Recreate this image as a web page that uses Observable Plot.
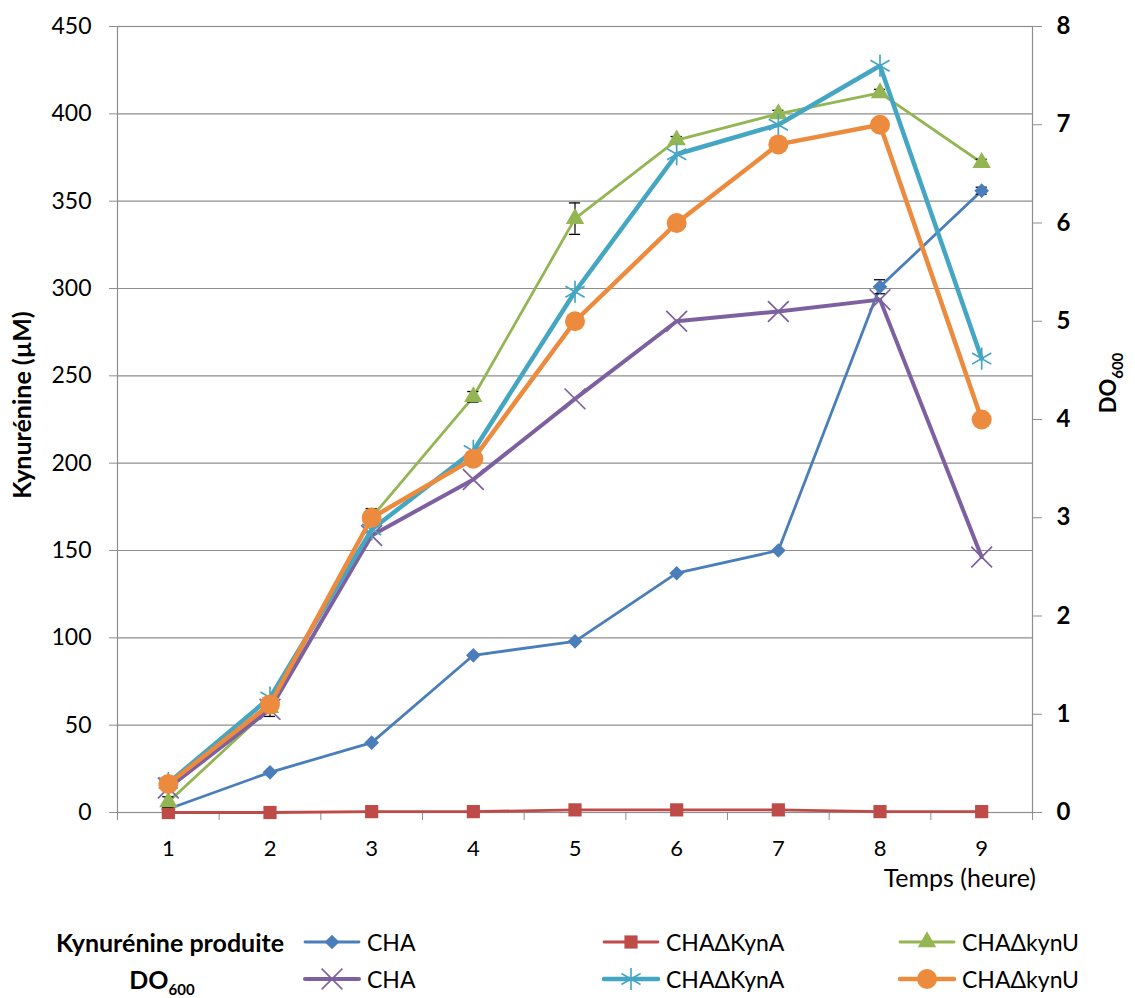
<!DOCTYPE html>
<html><head><meta charset="utf-8">
<script src="https://cdn.jsdelivr.net/npm/d3@7"></script>
<script src="https://cdn.jsdelivr.net/npm/@observablehq/plot@0.6"></script>
<style>
body{margin:0;background:#fff;font-family:Lato,"Open Sans",sans-serif;}
#wrap{position:relative;width:1135px;}
#legend{position:relative;width:1135px;height:98px;}
.item{position:absolute;display:flex;align-items:center;height:32px;font-size:23px;color:#000;white-space:nowrap;}
.lab{position:absolute;height:32px;line-height:32px;font-size:25px;font-weight:bold;text-align:center;width:240px;left:50px;}
.lab sub{font-size:15px;vertical-align:-6px;line-height:0;}
.item svg{margin-right:6px;}
</style></head><body>
<div id="wrap"></div>
<div id="legend"></div>
<script>
// ---- data ----
const hours = [1, 2, 3, 4, 5, 6, 7, 8, 9];
const yTicks = [0, 50, 100, 150, 200, 250, 300, 350, 400, 450];
const doTicks = [0, 1, 2, 3, 4, 5, 6, 7, 8];
const strains = ["CHA", "CHAΔKynA", "CHAΔkynU"];

// Kynurénine produite (µM) — left axis
const kynCHA   = [2, 23, 40, 90, 98, 137, 150, 301, 356];
const kynCHAErr = [0, 0, 0, 0, 0, 0, 0, 4, 2];
const kynKynA  = [0, 0, 0.5, 0.5, 1.5, 1.5, 1.5, 0.5, 0.5];
const kynKynU  = [6, 60, 169, 238, 340, 385, 400, 412, 372];
const kynKynUErr = [3, 5, 5, 3, 9, 2, 2, 2, 2];

// DO600 — right axis
const doCHA  = [0.25, 1.05, 2.82, 3.39, 4.21, 5.0, 5.1, 5.22, 2.6];
const doKynA = [0.3, 1.17, 2.88, 3.68, 5.3, 6.7, 7.0, 7.6, 4.62];
const doKynU = [0.29, 1.1, 3.0, 3.6, 5.0, 6.0, 6.8, 7.0, 4.0];

// ---- build ----
const K = 450 / 8; // DO600 -> left-axis units
const series = [
  {group:"Kynurénine produite", name:strains[0], vals:kynCHA, err:kynCHAErr, scale:1, color:"#4A7EBB", sw:2.8, symbol:"diamond2", r:6.6, filled:true},
  {group:"Kynurénine produite", name:strains[1], vals:kynKynA, err:null, scale:1, color:"#BE4B48", sw:2.8, symbol:"square2", r:8.4, filled:true},
  {group:"Kynurénine produite", name:strains[2], vals:kynKynU, err:kynKynUErr, scale:1, color:"#93B653", sw:2.8, symbol:"triangle2", r:8.8, filled:true},
  {group:"DO600", name:strains[0], vals:doCHA, err:null, scale:K, color:"#7D60A0", sw:4, symbol:"times", r:9.5, filled:false},
  {group:"DO600", name:strains[1], vals:doKynA, err:null, scale:K, color:"#44A6C2", sw:4.5, symbol:"asterisk", r:10.5, filled:false},
  {group:"DO600", name:strains[2], vals:doKynU, err:null, scale:K, color:"#EC8A3E", sw:4.5, symbol:"circle", r:10, filled:true}
];
const rowsOf = s => hours.map((h, i) => ({hour:h, v:s.vals[i] * s.scale, e:s.err ? s.err[i] : 0}));
const boundaries = [...hours.map(h => h - 0.5), 9.5];

const marks = [
  Plot.gridY(yTicks, {stroke:"#8e8e8e", strokeOpacity:1, strokeWidth:1.2}),
  Plot.frame({stroke:"#8e8e8e", strokeWidth:1.2}),
  Plot.axisY(yTicks, {anchor:"left", tickSize:8, tickPadding:18, stroke:"#8e8e8e", fontSize:23, label:null}),
  Plot.axisY(doTicks.map(d => d * K), {anchor:"right", tickSize:9, tickPadding:15, stroke:"#8e8e8e",
    tickFormat:v => String(Math.round(v / K)), fontWeight:"bold", fontSize:24, label:null}),
  Plot.axisX(hours, {anchor:"bottom", tickSize:0, tickPadding:28, fontSize:22, label:null}),
  Plot.axisX(boundaries, {anchor:"bottom", tickSize:8, stroke:"#8e8e8e", tickFormat:() => "", label:null})
];
for (const s of series) {
  const rows = rowsOf(s);
  marks.push(Plot.line(rows, {x:"hour", y:"v", stroke:s.color, strokeWidth:s.sw, strokeLinejoin:"round", strokeLinecap:"round"}));
  if (s.err) {
    const er = rows.filter(d => d.e > 0);
    marks.push(Plot.ruleX(er, {x:"hour", y1:d => d.v - d.e, y2:d => d.v + d.e, stroke:"#000", strokeWidth:1.2}));
    marks.push(Plot.ruleY(er, {y:d => d.v + d.e, x1:d => d.hour - 0.055, x2:d => d.hour + 0.055, stroke:"#000", strokeWidth:1.3}));
    marks.push(Plot.ruleY(er, {y:d => d.v - d.e, x1:d => d.hour - 0.055, x2:d => d.hour + 0.055, stroke:"#000", strokeWidth:1.3}));
  }
  marks.push(Plot.dot(rows, s.filled
    ? {x:"hour", y:"v", symbol:s.symbol, r:s.r, fill:s.color, stroke:"none"}
    : {x:"hour", y:"v", symbol:s.symbol, r:s.r, fill:"none", stroke:s.color, strokeWidth:1.7}));
}

const plot = Plot.plot({
  width:1135, height:900,
  marginLeft:117, marginRight:103, marginTop:26, marginBottom:88,
  x:{type:"linear", domain:[0.5, 9.5]},
  y:{domain:[0, 450]},
  style:{fontFamily:"Lato, 'Open Sans', sans-serif", fontSize:"23px", color:"#000", background:"#fff"},
  marks
});
document.getElementById("wrap").appendChild(plot);

// axis titles
const sx = plot.scale("x"), sy = plot.scale("y");
const svg = d3.select(plot);
const midY = (sy.apply(0) + sy.apply(450)) / 2;
svg.append("text").attr("transform", `translate(31,${midY - 14}) rotate(-90)`)
  .attr("text-anchor", "middle").attr("font-weight", "bold").attr("font-size", 25)
  .attr("fill", "#000").text("Kynurénine (µM)");
const t2 = svg.append("text").attr("transform", `translate(1116,${midY - 36}) rotate(-90)`)
  .attr("text-anchor", "middle").attr("font-weight", "bold").attr("font-size", 22).attr("fill", "#000");
t2.append("tspan").text("DO");
t2.append("tspan").attr("font-size", 15).attr("dy", 7).text("600");
svg.append("text").attr("x", sx.apply(9.5) + 4).attr("y", sy.apply(0) + 75)
  .attr("text-anchor", "end").attr("font-size", 25).attr("fill", "#000").text("Temps (heure)");

// legend
const legend = d3.select("#legend");
const rowsY = [26, 63];
const colX = [303, 602, 898];
legend.append("div").attr("class", "lab").style("top", rowsY[0] + "px").text("Kynurénine produite");
legend.append("div").attr("class", "lab").style("top", rowsY[1] + "px").style("left", "42px").html("DO<sub>600</sub>");
const symMap = {diamond2:d3.symbolDiamond2, square2:d3.symbolSquare2, triangle2:d3.symbolTriangle2,
  times:d3.symbolTimes, asterisk:d3.symbolAsterisk, circle:d3.symbolCircle};
series.forEach((s, i) => {
  const row = i < 3 ? 0 : 1, col = i % 3;
  const item = legend.append("div").attr("class", "item")
    .style("left", colX[col] + "px").style("top", rowsY[row] + "px");
  const sv = item.append("svg").attr("width", 58).attr("height", 32);
  sv.append("line").attr("x1", 2).attr("x2", 56).attr("y1", 16).attr("y2", 16)
    .attr("stroke", s.color).attr("stroke-width", s.sw).attr("stroke-linecap", "round");
  const p = sv.append("path").attr("transform", "translate(29,16)")
    .attr("d", d3.symbol(symMap[s.symbol], Math.PI * s.r * s.r)());
  if (s.filled) p.attr("fill", s.color); else p.attr("fill", "none").attr("stroke", s.color).attr("stroke-width", 1.6);
  item.append("span").text(s.name);
});
</script>
</body></html>
